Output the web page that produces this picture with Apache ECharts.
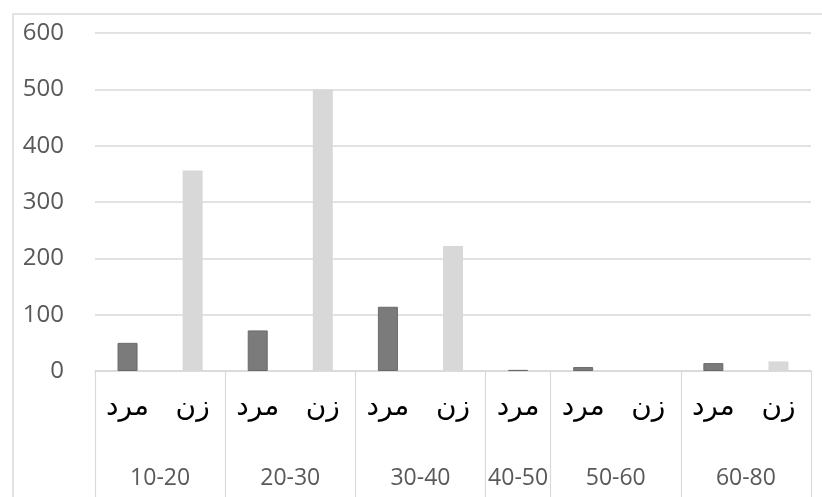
<!DOCTYPE html>
<html>
<head>
<meta charset="utf-8">
<script src="https://cdn.jsdelivr.net/npm/echarts@6/dist/echarts.min.js"></script>
<style>html,body{margin:0;padding:0;background:#fff}#c{width:822px;height:497px}</style>
</head>
<body>
<div id="c"></div>
<script>
// Data
const groups = ['10-20', '20-30', '30-40', '40-50', '50-60', '60-80'];
const groupSexes = [['مرد', 'زن'], ['مرد', 'زن'], ['مرد', 'زن'], ['مرد'], ['مرد', 'زن'], ['مرد', 'زن']];
const maleValues = [50, 72, 114, 2, 7, 14];
const femaleValues = [356, 500, 222, null, 0, 17];
const yTicks = [0, 100, 200, 300, 400, 500, 600];

// Build leaf categories and series
const leafLabels = [];
const maleData = [];
const femaleData = [];
const boundaries = [0];
const groupCenters = [];
groups.forEach((g, i) => {
  const start = leafLabels.length;
  groupSexes[i].forEach(s => {
    leafLabels.push(s);
    if (s === 'مرد') { maleData.push(maleValues[i]); femaleData.push(null); }
    else { maleData.push(null); femaleData.push(femaleValues[i]); }
  });
  const end = leafLabels.length;
  boundaries.push(end);
  groupCenters.push((start + end) / 2);
});

const chart = echarts.init(document.getElementById('c'));
chart.setOption({
  animation: false,
  backgroundColor: '#fff',
  graphic: [
    { type: 'polyline', shape: { points: [[13, 497], [13, 14], [822, 14]] }, style: { stroke: '#d9d9d9', lineWidth: 1.5, fill: null } }
  ],
  grid: { left: 95, right: 11, top: 33, bottom: 126 },
  xAxis: [
    {
      type: 'category',
      data: leafLabels,
      position: 'bottom',
      axisLine: { show: true, lineStyle: { color: '#d9d9d9', width: 1.5 } },
      axisTick: { show: false },
      axisLabel: { margin: 23, fontSize: 28, color: '#000', fontFamily: 'DejaVu Sans' }
    },
    {
      type: 'value',
      min: 0,
      max: leafLabels.length,
      position: 'bottom',
      axisLine: { show: false },
      splitLine: { show: false },
      axisTick: { show: true, customValues: boundaries, length: 126, lineStyle: { color: '#d9d9d9', width: 1.2 } },
      axisLabel: {
        customValues: groupCenters,
        margin: 96,
        fontSize: 23,
        color: '#595959',
        fontFamily: 'Open Sans',
        formatter: v => { const k = groupCenters.indexOf(v); return k >= 0 ? groups[k] : ''; }
      }
    }
  ],
  yAxis: {
    type: 'value',
    min: yTicks[0],
    max: yTicks[yTicks.length - 1],
    interval: 100,
    axisLine: { show: false },
    axisTick: { show: false },
    splitLine: { lineStyle: { color: '#d9d9d9', width: 1.5 } },
    axisLabel: { margin: 31, fontSize: 24, color: '#595959', fontFamily: 'Open Sans' }
  },
  series: [
    { name: 'مرد', type: 'bar', xAxisIndex: 0, data: maleData, barWidth: 20, barGap: '-100%',
      itemStyle: { color: '#7b7b7b', borderColor: '#6a6a6a', borderWidth: 1 } },
    { name: 'زن', type: 'bar', xAxisIndex: 0, data: femaleData, barWidth: 20, barGap: '-100%',
      itemStyle: { color: '#d8d8d8' } }
  ]
});
</script>
</body>
</html>
